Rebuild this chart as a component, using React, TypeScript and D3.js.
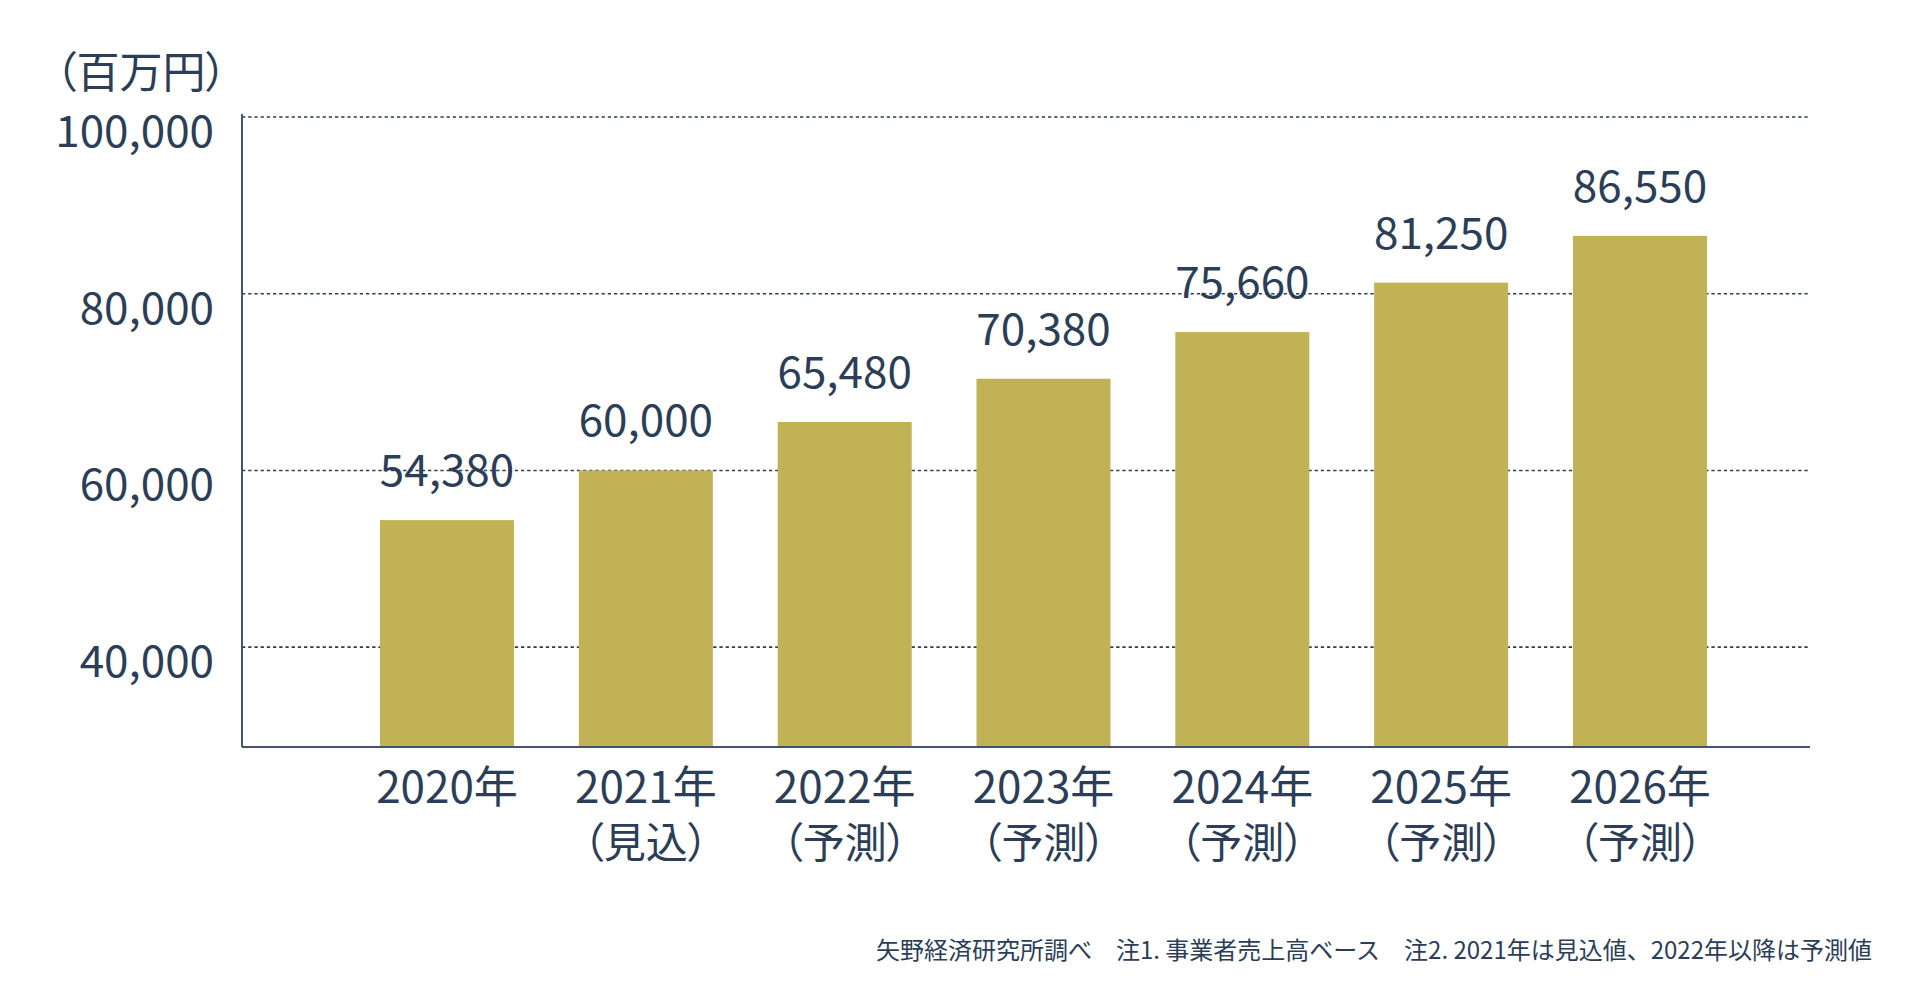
import React from "react";
import * as d3 from "d3";

const years = ["2020年", "2021年", "2022年", "2023年", "2024年", "2025年", "2026年"];
const subLabels = ["", "（見込）", "（予測）", "（予測）", "（予測）", "（予測）", "（予測）"];
const sales = [54380, 60000, 65480, 70380, 75660, 81250, 86550];
const yTicks = [40000, 60000, 80000, 100000];
const unitLabel = "（百万円）";
const footnote =
  "矢野経済研究所調べ　注1. 事業者売上高ベース　注2. 2021年は見込値、2022年以降は予測値";

const W = 1920;
const H = 1008;
const TEXT = "#2c3e57";
const BAR = "#c0b255";
const FONT = '"Noto Sans CJK JP", "Noto Sans", sans-serif';

export default function App() {
  const axisX = 242;
  const plotRight = 1810;
  const baseY = 747;

  const x = d3
    .scaleBand<string>()
    .domain(years)
    .range([380, 1707])
    .paddingInner(0.326)
    .paddingOuter(0);

  const y = d3.scaleLinear().domain([28700, 100000]).range([baseY, 117]);
  const fmt = d3.format(",");

  const textStyle: React.CSSProperties = {
    fontFamily: FONT,
    fontFeatureSettings: '"palt"',
  };

  return (
    <svg
      width={W}
      height={H}
      style={{ position: "absolute", left: 0, top: 0, background: "#fff" }}
    >
      {/* grid lines */}
      {yTicks.map((t) => (
        <line
          key={t}
          x1={axisX}
          x2={plotRight - 2}
          y1={y(t)}
          y2={y(t)}
          stroke={TEXT}
          strokeWidth={1.6}
          strokeDasharray="3.3 2.9"
        />
      ))}

      {/* bars */}
      {sales.map((v, i) => (
        <rect
          key={years[i]}
          x={x(years[i])}
          y={y(v)}
          width={x.bandwidth()}
          height={baseY - y(v)}
          fill={BAR}
        />
      ))}

      {/* axes */}
      <line x1={axisX} x2={axisX} y1={114} y2={baseY} stroke="#44546a" strokeWidth={2} />
      <line x1={axisX} x2={plotRight} y1={baseY} y2={baseY} stroke="#44546a" strokeWidth={2} />

      {/* y tick labels */}
      {yTicks.map((t) => (
        <text
          key={t}
          x={214}
          y={y(t) + 30}
          textAnchor="end"
          fontSize={44}
          fill={TEXT}
          style={textStyle}
        >
          {fmt(t)}
        </text>
      ))}

      <text x={55} y={88} fontSize={43} fill={TEXT} style={textStyle}>
        {unitLabel}
      </text>

      {/* value labels */}
      {sales.map((v, i) => (
        <text
          key={years[i]}
          x={(x(years[i]) ?? 0) + x.bandwidth() / 2}
          y={y(v) - 34}
          textAnchor="middle"
          fontSize={44}
          fill={TEXT}
          style={textStyle}
        >
          {fmt(v)}
        </text>
      ))}

      {/* x labels */}
      {years.map((yr, i) => {
        const cx = (x(yr) ?? 0) + x.bandwidth() / 2;
        return (
          <g key={yr}>
            <text x={cx} y={803} textAnchor="middle" fontSize={44} fill={TEXT} style={textStyle}>
              {yr}
            </text>
            {subLabels[i] && (
              <text x={cx} y={858} textAnchor="middle" fontSize={42} fill={TEXT} style={textStyle}>
                {subLabels[i]}
              </text>
            )}
          </g>
        );
      })}

      <text
        x={1872}
        y={959}
        textAnchor="end"
        fontSize={24}
        fill={TEXT}
        style={{ fontFamily: FONT }}
      >
        {footnote}
      </text>
    </svg>
  );
}
